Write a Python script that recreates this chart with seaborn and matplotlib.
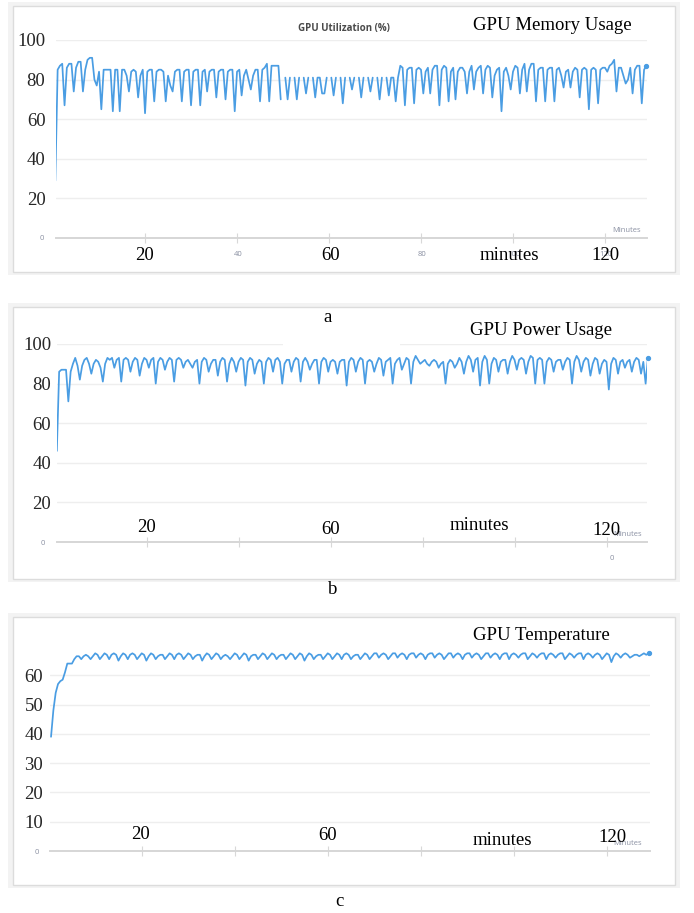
import numpy as np
import pandas as pd
import seaborn as sns
import matplotlib.pyplot as plt
from matplotlib.patches import Rectangle

nan = np.nan

# 1. Data (one value every half minute)
memory = [
    29, 85, 87, 88, 67, 86, 88, 88, 74, 86, 89, 89, 74, 85, 90, 91, 91, 80, 77, 84,
    65, 85, 85, 85, 85, 64, 85, 85, 64, 85, 85, 82, 74, 84, 85, 84, 71, 82, 85, 63,
    84, 85, 85, 69, 84, 85, 85, 84, 69, 82, 77, 74, 84, 85, 85, 69, 84, 85, 85, 67,
    84, 85, 85, 67, 84, 85, 74, 84, 85, 85, 71, 84, 85, 85, 70, 84, 85, 85, 64, 84,
    85, 72, 82, 85, 80, 75, 82, 85, 85, 69, 85, 86, 88, 69, 87, 87, 87, 87, 70, nan,
    81, 70, 81, nan, 81, 70, 81, nan, 81, 73, 81, nan, 81, 71, 81, 81, 73, 73, 81, nan,
    81, 72, 81, nan, 81, 68, 81, nan, 81, 75, 81, nan, 81, 71, 81, nan, 81, 74, 81, nan,
    81, 70, 81, nan, 81, 72, 81, 81, 69, 81, 87, 86, 67, 85, 86, 86, 68, 85, 86, 85,
    73, 84, 86, 73, 85, 87, 87, 67, 85, 87, 86, 69, 84, 86, 70, 84, 86, 86, 84, 73,
    84, 87, 75, 84, 86, 87, 73, 85, 87, 86, 71, 82, 85, 86, 64, 84, 86, 82, 75, 84,
    87, 86, 73, 85, 88, 74, 85, 88, 88, 69, 85, 86, 86, 69, 85, 86, 86, 69, 85, 86,
    82, 76, 84, 85, 76, 84, 86, 85, 71, 85, 86, 85, 65, 85, 86, 85, 68, 85, 86, 86,
    84, 87, 88, 90, 74, 86, 86, 82, 78, 80, 86, 73, 85, 87, 87, 68, 85, 87,
]

power = [
    46, 86, 87, 87, 87, 71, 86, 90, 93, 89, 82, 89, 92, 93, 90, 85, 90, 92, 91, 88,
    81, 90, 93, 92, 93, 88, 92, 93, 81, 92, 93, 92, 86, 91, 93, 92, 84, 90, 93, 92,
    88, 92, 93, 80, 91, 93, 92, 87, 91, 93, 92, 81, 92, 93, 92, 88, 91, 92, 90, 88,
    91, 92, 80, 91, 93, 92, 86, 90, 92, 92, 84, 91, 93, 92, 81, 90, 93, 91, 86, 91,
    93, 92, 79, 91, 93, 92, 85, 90, 92, 91, 80, 91, 93, 92, 86, 92, 93, 91, 80, 90,
    92, 92, 86, 91, 93, 92, 81, 91, 93, 91, 87, 90, 92, 92, 80, 91, 93, 92, 86, 91,
    92, 91, 85, 91, 92, 92, 79, 91, 93, 92, 86, 91, 93, 92, 80, 91, 92, 91, 86, 90,
    93, 92, 84, 91, 92, 93, 80, 90, 92, 93, 87, 90, 93, 92, 80, 91, 94, 92, 90, 91,
    92, 90, 89, 91, 92, 91, 88, 90, 91, 80, 90, 92, 91, 88, 90, 93, 91, 85, 91, 94,
    92, 86, 92, 93, 79, 91, 94, 92, 80, 90, 93, 92, 86, 91, 92, 92, 85, 91, 94, 92,
    87, 92, 93, 92, 85, 91, 94, 93, 80, 92, 93, 92, 80, 91, 93, 92, 86, 91, 92, 92,
    87, 91, 93, 92, 80, 91, 94, 92, 86, 91, 93, 92, 84, 90, 93, 92, 85, 90, 92, 91,
    77, 90, 93, 92, 85, 91, 92, 88, 91, 92, 86, 91, 93, 92, 85, 91, 80, 93,
]

temperature = [
    39, 48, 54, 57, 58, 58.5, 61, 64, 64, 64, 65.5, 66.5, 66.5, 65.5, 66.5, 67, 66.5, 65.5, 66.5, 67.5,
    67, 65.5, 66.5, 67.5, 67, 65.5, 67, 67.5, 67, 65, 66.5, 67.5, 67, 65.5, 67, 67.5, 67, 65.5, 66.5, 67.5,
    67, 65, 66.5, 67.5, 67, 65.5, 66.5, 67, 67, 65.5, 66.5, 67.5, 67, 65.5, 67, 67.5, 67, 65.5, 66.5, 67.5,
    67, 65.5, 66.5, 67, 67, 65, 66.5, 67.5, 67, 65.5, 66.5, 67.5, 67, 65.5, 66.5, 67, 66.5, 65.5, 66.5, 67.5,
    67, 65.5, 66.5, 67.5, 67, 65, 66.5, 67, 67, 65.5, 66.5, 67.5, 67, 65.5, 66.5, 67.5, 67, 65.5, 66.5, 67,
    67, 65.5, 66.5, 67.5, 67, 65.5, 66.5, 67.5, 67, 65, 66.5, 67.5, 67, 65.5, 66.5, 67, 67, 65.5, 66.5, 67.5,
    67, 65.5, 66.5, 67.5, 67, 65.5, 67, 67.5, 67, 65.5, 66.5, 67, 67, 65.5, 66.5, 67.5, 67, 65.5, 66.5, 67.5,
    67.5, 66, 67, 67.5, 67, 65.5, 66.5, 67.5, 67.5, 66, 67, 67.5, 67, 65.5, 67, 67.5, 67.5, 66, 67, 67.5,
    67, 65.5, 67, 67.5, 67.5, 66, 67, 67.5, 67, 65.5, 66.5, 67.5, 67.5, 66, 67, 67.5, 67, 65.5, 67, 67.5,
    67.5, 66, 67, 67.5, 67, 65.5, 66.5, 67.5, 67.5, 66, 67, 67.5, 67, 65.5, 67, 67.5, 67.5, 65.5, 67, 67.5,
    67, 66, 67, 67.5, 67.5, 65.5, 66.5, 67.5, 67, 66, 67, 67.5, 67.5, 65.5, 67, 67.5, 67, 66, 67, 67.5,
    67.5, 65.5, 66.5, 67.5, 67, 66, 67, 67.5, 67.5, 65.5, 67, 67.5, 67, 66, 67, 67.5, 67, 65.5, 66.5, 67.5,
    67, 64.5, 66.5, 67.5, 67, 66, 67, 67.5, 67, 66, 66.5, 67, 67, 66.5, 67, 67.5, 67, 67.5,
]

titles = ["GPU Memory Usage", "GPU Power Usage", "GPU Temperature"]
letters = ["a", "b", "c"]
y_ticks = [[20, 40, 60, 80, 100], [20, 40, 60, 80, 100], [10, 20, 30, 40, 50, 60]]
x_ticks = [20, 40, 60, 80, 100, 120]

# 2. Look and feel
sns.set_style("white")
SERIF = ["Liberation Serif", "DejaVu Serif"]
SANS = ["Open Sans", "DejaVu Sans"]
plt.rcParams["font.family"] = SERIF
BLUE = "#4a9de3"
GREY_TXT = "#8a90a2"

W, H = 694, 913
fig = plt.figure(figsize=(W / 100, H / 100), dpi=100)


def fx(px):
    return px / W


def fy(py):
    return 1 - py / H


def box(left, top, right, bottom, **kw):
    fig.add_artist(Rectangle((fx(left), fy(bottom)), (right - left) / W, (bottom - top) / H,
                             transform=fig.transFigure, **kw))


def label(x, y, s, size=13.5, family=SERIF, color="black", **kw):
    fig.text(fx(x), fy(y), s, ha="center", va="center", fontsize=size,
             family=family, color=color, zorder=6, **kw)


# screenshot frames (grey margin + white card)
for top, bottom in [(2, 275), (303, 582), (613, 888)]:
    box(8, top, 680, bottom, facecolor="#f3f3f3", edgecolor="none", zorder=-10)
    box(13, top + 4, 675, bottom - 3, facecolor="white", edgecolor="#dcdcdc", lw=1, zorder=-9)

# plot areas in pixels: left, top, right, bottom, xlim, ylim, tick label pad
layout = [
    (55.8, 40, 647.3, 238, (0.6, 129.2), (0, 100), 7.5),
    (57.3, 344, 647.0, 542, (0.6, 128.8), (0, 100), 4.5),
    (50.1, 646, 649.5, 851, (0.3, 129.2), (0, 70), 5.0),
]

# 3. Draw the three panels
for i, vals in enumerate([memory, power, temperature]):
    left, top, right, bottom, xlim, ylim, pad = layout[i]
    ax = fig.add_axes([fx(left), fy(bottom), (right - left) / W, (bottom - top) / H])
    ax.set_facecolor("none")

    df = pd.DataFrame({"minute": 0.5 * np.arange(1, len(vals) + 1), "value": vals})
    df["seg"] = df["value"].isna().cumsum()
    df = df.dropna()
    sns.lineplot(data=df, x="minute", y="value", units="seg", estimator=None,
                 color=BLUE, lw=1.25, ax=ax, legend=False)
    ax.plot(df["minute"].iloc[-1], df["value"].iloc[-1], "o", ms=2.8, color=BLUE, clip_on=False)

    ax.set_xlim(*xlim)
    ax.set_ylim(*ylim)
    ax.set(xlabel="", ylabel="")
    ax.set_yticks(y_ticks[i])
    ax.set_yticklabels([str(v) for v in y_ticks[i]], family=SERIF, fontsize=13.5)
    ax.set_xticks(x_ticks)
    ax.tick_params(axis="y", length=0, pad=pad)
    ax.tick_params(axis="x", bottom=True, direction="inout", length=7, width=0.8,
                   color="#d8d8d8", labelbottom=False)
    ax.grid(axis="y", color="#eeeeee", lw=1)
    ax.grid(axis="x", visible=False)
    ax.set_axisbelow(True)
    for side in ["top", "right", "left"]:
        ax.spines[side].set_visible(False)
    ax.spines["bottom"].set_color("#d6d6d6")
    ax.spines["bottom"].set_linewidth(1.4)

# erased original title in panel b hides part of the top grid line
box(283, 337, 400, 351, facecolor="white", edgecolor="none", zorder=1)

# 4. Leftover text of the original screenshots (small grey)
label(344, 29, "GPU Utilization (%)", size=7, family=SANS, color="#4a4a4a", weight="bold")
for x, s in [(238, "40"), (422, "80"), (514, "100"), (606, "120")]:
    label(x, 254, s, size=5.5, family=SANS, color=GREY_TXT)
label(42, 239, "0", size=5.5, family=SANS, color=GREY_TXT)
label(43, 543, "0", size=5.5, family=SANS, color=GREY_TXT)
label(37, 852, "0", size=5.5, family=SANS, color=GREY_TXT)
label(612, 558, "0", size=5.5, family=SANS, color=GREY_TXT)
label(627, 230, "Minutes", size=5.5, family=SANS, color=GREY_TXT)
label(628, 534, "Minutes", size=5.5, family=SANS, color=GREY_TXT)
label(628, 843, "Minutes", size=5.5, family=SANS, color=GREY_TXT)

# 5. Overlaid serif annotations
label(552, 25, titles[0])
label(541, 330, titles[1])
label(541, 635, titles[2])
for x, y, s in [(145, 256, "20"), (331, 256, "60"), (509, 256, "minutes"), (605, 256, "120"),
                (146, 527, "20"), (331, 529, "60"), (479, 525, "minutes"), (606, 530, "120"),
                (141, 834, "20"), (328, 835, "60"), (502, 840, "minutes"), (612, 837, "120")]:
    label(x, y, s)
for (x, y), s in zip([(328, 317), (333, 589), (339, 901)], letters):
    label(x, y, s)

plt.savefig("out.png", dpi=100)
